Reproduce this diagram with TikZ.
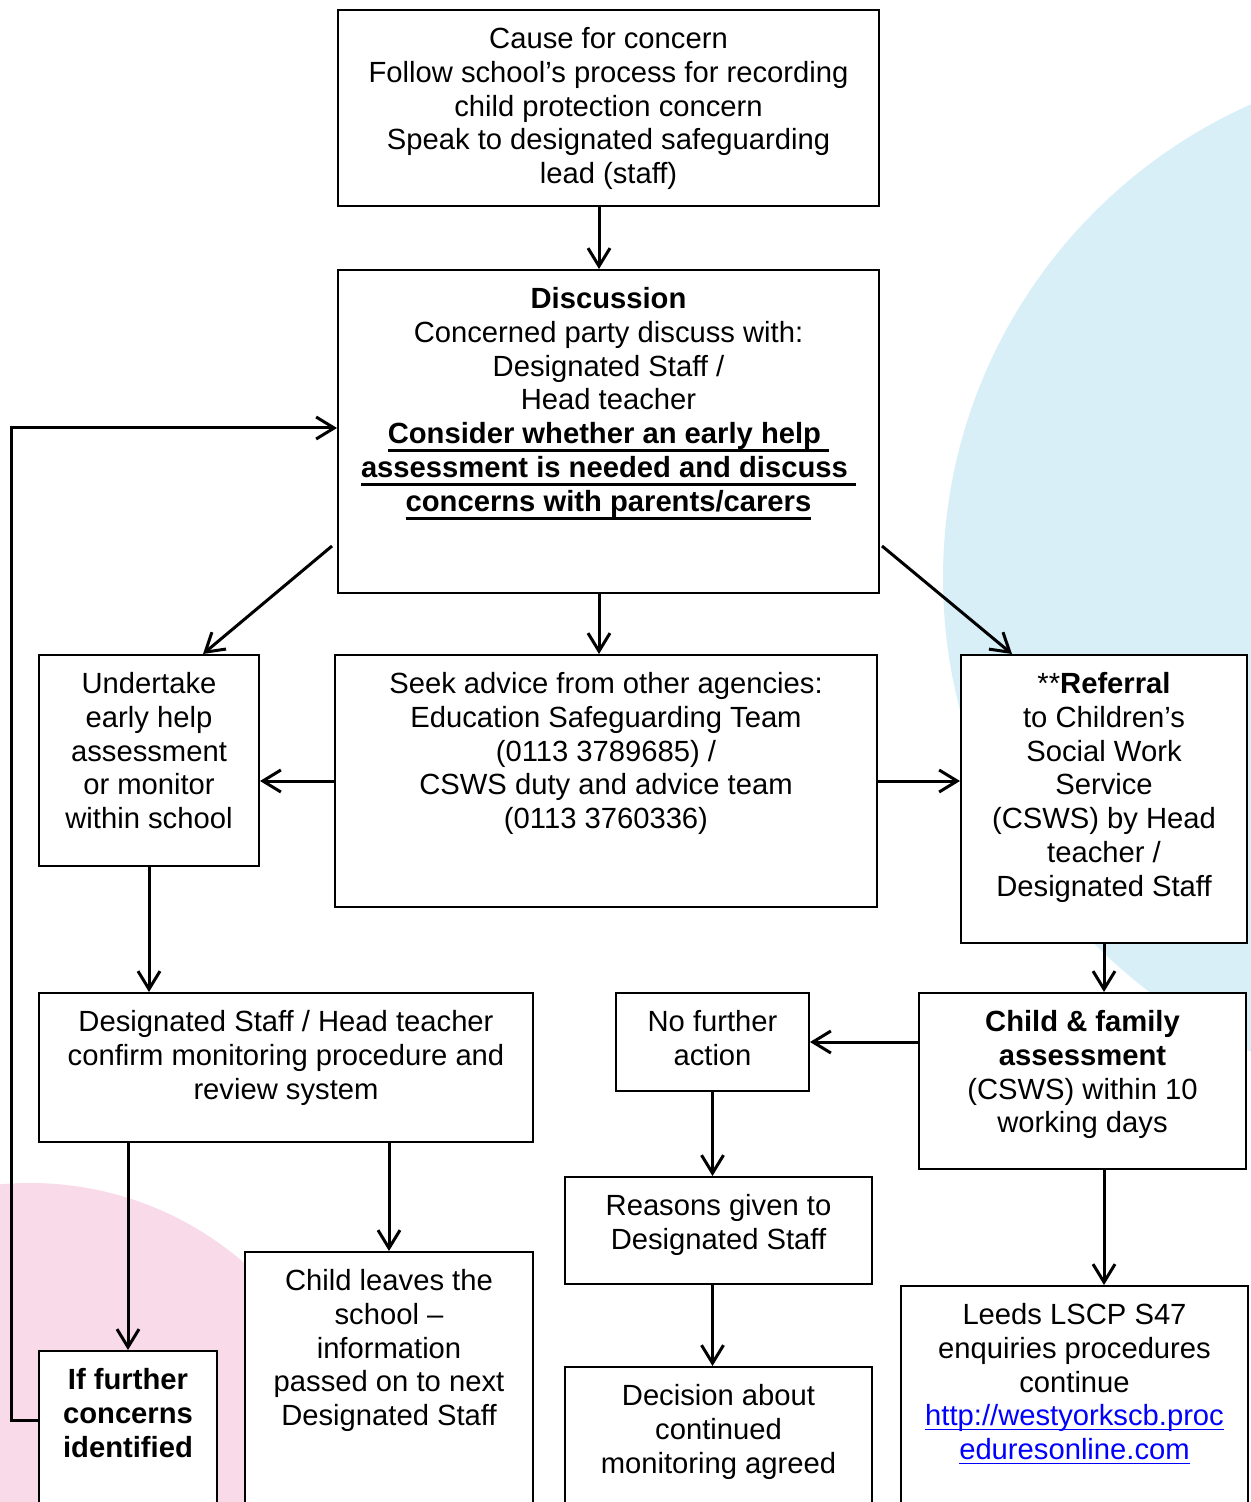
\documentclass[tikz,border=0pt]{standalone}
\usepackage{fontspec}
\setmainfont{Liberation Sans}
\usepackage{xcolor}
\usetikzlibrary{arrows.meta,positioning,fit}
\definecolor{bluebg}{HTML}{D8EFF7}
\definecolor{pinkbg}{HTML}{F9DAE9}
\definecolor{linkblue}{HTML}{0000FF}
\newcommand\ulin[3]{\setbox0=\hbox{#3}\rlap{\rule[#1]{\wd0}{#2}}\box0}

\begin{document}
\begin{tikzpicture}[x=0.5pt,y=-0.5pt,
box/.style={draw,line width=1pt,fill=white,inner sep=0pt},
txt/.style={align=center,inner sep=0pt,font=\fontsize{14.6pt}{16.9pt}\selectfont},
arr/.style={-{Straight Barb[length=9pt,width=11pt]},line width=1.5pt}]
 \useasboundingbox (0,0) rectangle (1250,1502);
 \fill[bluebg] (1461,578) circle (518);
 \fill[pinkbg] (30,1510) circle (327);
 \foreach \n/\xa/\ya/\xb/\yb in {cause/338/10/879/206, disc/338/270/879/593,
   eh/39/655/259/866, adv/335/655/877/907, ref/961/655/1247/943,
   mon/39/993/533/1142, nfa/616/993/809/1091, cfa/919/993/1246/1169,
   rsn/565/1177/872/1284, lvs/245/1252/533/1515, ifc/39/1351/217/1515,
   dec/565/1367/872/1515, lscp/901/1286/1248/1515}
    {\node[box,fit={(\xa,\ya) (\xb,\yb)}] (\n) {};}
 \node[txt,below=9pt of cause.north] (tcause) {Cause for concern\\
   Follow school’s process for recording\\ child protection concern\\
   Speak to designated safeguarding\\ lead (staff)};
 \node[txt,below=9pt of disc.north] (tdisc) {\textbf{Discussion}\\
   Concerned party discuss with:\\ Designated Staff /\\ Head teacher\\
   \textbf{\ulin{-4.2pt}{1.35pt}{Consider whether an early help }}\\
   \textbf{\ulin{-4.2pt}{1.35pt}{assessment is needed and discuss }}\\
   \textbf{\ulin{-4.2pt}{1.35pt}{concerns with parents/carers}}};
 \node[txt,below=9pt of eh.north] (teh) {Undertake\\ early help\\ assessment\\
   or monitor\\ within school};
 \node[txt,below=9pt of adv.north] (tadv) {Seek advice from other agencies:\\
   Education Safeguarding Team\\ (0113 3789685) /\\ CSWS duty and advice team\\
   (0113 3760336)};
 \node[txt,below=9pt of ref.north] (tref) {**\textbf{Referral}\\ to Children’s\\
   Social Work\\ Service\\ (CSWS) by Head\\ teacher /\\ Designated Staff};
 \node[txt,below=9pt of mon.north] (tmon) {Designated Staff / Head teacher\\
   confirm monitoring procedure and\\ review system};
 \node[txt,below=9pt of nfa.north] (tnfa) {No further\\ action};
 \node[txt,below=9pt of cfa.north] (tcfa) {\textbf{Child \& family}\\
   \textbf{assessment}\\ (CSWS) within 10\\ working days};
 \node[txt,below=9pt of rsn.north] (trsn) {Reasons given to\\ Designated Staff};
 \node[txt,below=9pt of lvs.north] (tlvs) {Child leaves the\\ school –\\
   information\\ passed on to next\\ Designated Staff};
 \node[txt,below=9pt of ifc.north] (tifc) {\textbf{If further}\\
   \textbf{concerns}\\ \textbf{identified}};
 \node[txt,below=9pt of dec.north] (tdec) {Decision about\\ continued\\
   monitoring agreed};
 \node[txt,below=9pt of lscp.north] (tlscp) {Leeds LSCP S47\\
   enquiries procedures\\ continue\\
   \textcolor{linkblue}{\ulin{-2pt}{0.6pt}{http://westyorkscb.proc}}\\
   \textcolor{linkblue}{\ulin{-2pt}{0.6pt}{eduresonline.com}}};
 % connectors
 \draw[arr] ([shift={(-9.5,0)}]cause.south) -- ([shift={(-9.5,0)}]disc.north);
 \draw[arr] ([shift={(-5,-48)}]disc.south west) -- ([shift={(54,0)}]eh.north);
 \draw[arr] ([shift={(-9.5,0)}]disc.south) -- ([shift={(-7,0)}]adv.north);
 \draw[arr] ([shift={(2,-48)}]disc.south east) -- ([shift={(52,0)}]ref.north west);
 \draw[arr] (adv.west) -- (eh.east |- adv.west);
 \draw[arr] (adv.east) -- (ref.west |- adv.east);
 \draw[arr] (eh.south) -- (mon.north -| eh.south);
 \draw[arr] (mon.south -| ifc.north) -- (ifc.north);
 \draw[arr] (mon.south -| lvs.north) -- (lvs.north);
 \coordinate (fb) at (11,428);
 \draw[arr] ([shift={(0,70)}]ifc.north west) -| (fb) -- (disc.west |- fb);
 \draw[arr] (ref.south) -- (cfa.north -| ref.south);
 \draw[arr] (cfa.west |- nfa.east) -- (nfa.east);
 \draw[arr] (nfa.south) -- (rsn.north -| nfa.south);
 \draw[arr] (rsn.south -| nfa.south) -- (dec.north -| nfa.south);
 \draw[arr] (cfa.south -| ref.south) -- (lscp.north -| ref.south);
\end{tikzpicture}
\end{document}
